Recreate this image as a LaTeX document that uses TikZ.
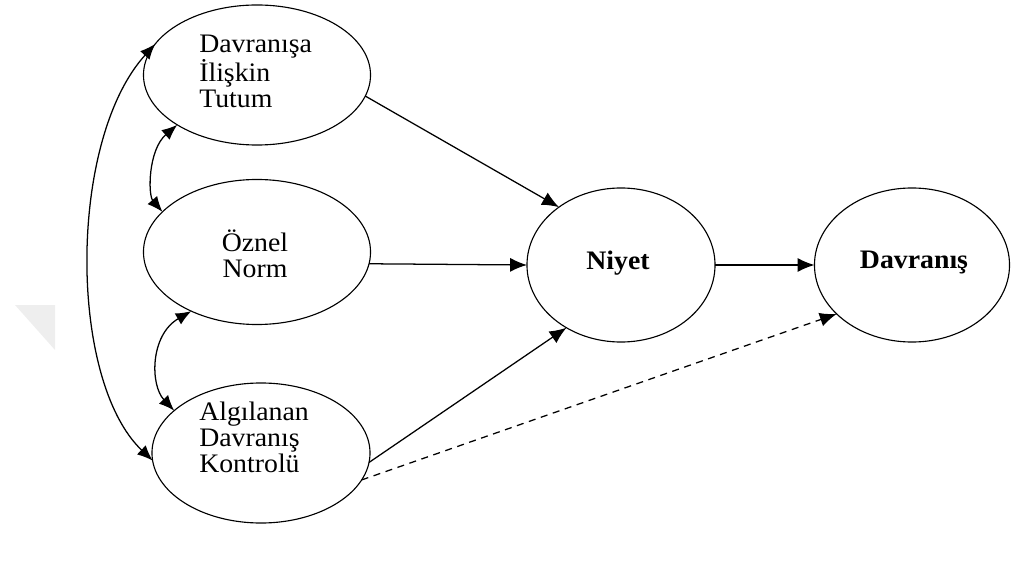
\documentclass[tikz,border=0pt]{standalone}
\usepackage{fontspec}
\setmainfont{Liberation Serif}[FakeStretch=1.04]
\usetikzlibrary{shapes.geometric,arrows.meta}
\begin{document}
\begin{tikzpicture}[x=0.025cm,y=-0.025cm,
  oval/.style={ellipse,draw,line width=0.8pt,inner sep=0pt,outer sep=0pt},
  txt/.style={font=\fontsize{19}{18.5}\selectfont,inner sep=0pt},
  btxt/.style={font=\fontsize{19}{18.5}\selectfont\bfseries,inner sep=0pt},
  link/.style={line width=0.9pt,-{Latex[length=12pt,width=10pt]}},
  twoway/.style={line width=0.9pt,{Latex[length=11pt,width=9pt]}-{Latex[length=11pt,width=9pt]}},
]
\useasboundingbox (0,0) rectangle (1014,564);

% faint grey corner mark at the left margin
\fill[gray!13] (15,305) -- (55,305) -- (55,350) -- cycle;

% constructs
\node[oval,minimum width=5.675cm,minimum height=3.5cm]   (tutum)    at (257,75)  {};
\node[oval,minimum width=5.675cm,minimum height=3.625cm] (norm)     at (257,252) {};
\node[oval,minimum width=5.45cm,minimum height=3.5cm]    (kontrol)  at (261,453) {};
\node[oval,minimum width=4.7cm,minimum height=3.85cm]    (niyet)    at (621,265) {};
\node[oval,minimum width=4.875cm,minimum height=3.85cm]  (davranis) at (912,265) {};

% labels
\node[txt,align=left,anchor=west]   (tutumtxt)   at (199,71)  {Davranışa\\İlişkin\\Tutum};
\node[txt,align=center]             (normtxt)    at (255,254) {Öznel\\Norm};
\node[txt,align=left,anchor=west]   (kontroltxt) at (199,437) {Algılanan\\Davranış\\Kontrolü};
\node[btxt]                         (niyettxt)   at (618,263) {Niyet};
\node[btxt]                         (davrtxt)    at (914,263) {Davranış};

% direct paths
\draw[link] (tutum.-11)   -- (niyet.137.8);
\draw[link] (norm.-6)     -- (niyet.180);
\draw[link] (kontrol.-5)  -- (niyet.229.6);
\draw[link] (niyet.0)     -- (davranis.180);
\draw[link,dash pattern=on 5pt off 4pt] (kontrol.-15) -- (davranis.213.5);

% correlations between the predictors
\draw[twoway] (tutum.163.9) .. controls (68,140) and (68,380) .. (kontrol.-176);
\draw[twoway] (tutum.212.9) .. controls (148,150) and (148,195) .. (norm.157.6);
\draw[twoway] (norm.222.6)  .. controls (150,335) and (150,385) .. (kontrol.154.3);
\end{tikzpicture}
\end{document}
